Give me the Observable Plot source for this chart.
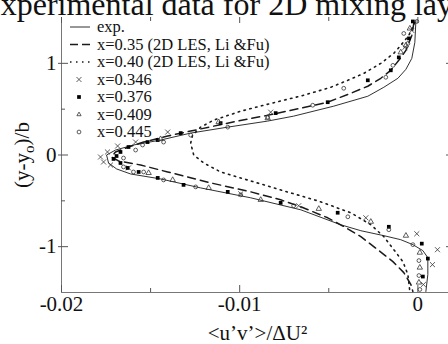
<!DOCTYPE html>
<html><head><meta charset="utf-8">
<script src="https://cdn.jsdelivr.net/npm/d3@7"></script>
<script src="https://cdn.jsdelivr.net/npm/@observablehq/plot@0.6"></script>
<style>html,body{margin:0;padding:0;overflow:hidden;background:#fff;width:448px;height:344px}</style>
</head><body><div id="chart"></div>
<script>
const title = "Experimental data for 2D mixing layer";
const xLabel = "<u\u2019v\u2019>/\u0394U\u00B2";
const xTicks = [-0.02, -0.01, 0];
const xTickLabels = ["-0.02", "-0.01", "0"];
const xMinor = [-0.015, -0.005];
const yTicks = [1, 0, -1];
const yTickLabels = ["1", "0", "-1"];
const yMinor = [0.5, -0.5];
const seriesLabels = ["exp.", "x=0.35 (2D LES, Li &Fu)", "x=0.40 (2D LES, Li &Fu)", "x=0.346", "x=0.376", "x=0.409", "x=0.445"];

// exp. (solid)
const expX = [-0.00011,-0.00017,-0.00034,-0.00067,-0.00112,-0.00191,-0.00281,-0.00472,-0.00697,-0.00843,-0.01067,-0.01275,-0.01444,-0.01596,-0.01697,-0.01747,-0.01736,-0.01691,-0.01612,-0.01444,-0.01219,-0.00938,-0.00657,-0.00433,-0.0032,-0.00191,-0.00096,-0.00028,0.00028,0.00056,0.00056,0.00045];
const expY = [1.467,1.228,1.054,0.935,0.837,0.739,0.641,0.533,0.424,0.370,0.304,0.239,0.163,0.109,0.054,0.000,-0.087,-0.152,-0.207,-0.261,-0.359,-0.467,-0.598,-0.761,-0.826,-0.880,-0.924,-0.978,-1.043,-1.120,-1.304,-1.489];
// x=0.35 LES (dashed)
const les35X = [-0.00022,-0.00034,-0.00067,-0.00107,-0.00152,-0.00208,-0.00281,-0.00376,-0.00506,-0.00657,-0.00809,-0.01011,-0.01146,-0.01275,-0.01404,-0.01539,-0.01624,-0.01697,-0.01719,-0.0168,-0.01556,-0.01404,-0.01292,-0.01163,-0.00938,-0.0077,-0.00657,-0.00506,-0.00404,-0.0032,-0.00225,-0.0014,-0.00079,-0.00039,-0.00028];
const les35Y = [1.446,1.304,1.141,1.033,0.924,0.837,0.750,0.674,0.576,0.511,0.446,0.370,0.315,0.261,0.207,0.141,0.087,0.033,-0.022,-0.065,-0.109,-0.185,-0.239,-0.304,-0.402,-0.489,-0.565,-0.685,-0.793,-0.891,-1.033,-1.163,-1.283,-1.413,-1.489];
// x=0.40 LES (dotted)
const les40X = [-0.00017,-0.00051,-0.00096,-0.00135,-0.00208,-0.00303,-0.00393,-0.00489,-0.0064,-0.00865,-0.00994,-0.01146,-0.01219,-0.01264,-0.01275,-0.01258,-0.01202,-0.01107,-0.00938,-0.00753,-0.00562,-0.00376,-0.00264,-0.00191,-0.00135,-0.00084,-0.00056,-0.00045];
const les40Y = [1.446,1.304,1.196,1.109,1.000,0.891,0.815,0.739,0.652,0.543,0.478,0.380,0.304,0.217,0.130,0.000,-0.087,-0.185,-0.283,-0.391,-0.500,-0.630,-0.761,-0.891,-1.033,-1.163,-1.304,-1.489];
// x=0.346 (times)
const m346X = [-0.00034,-0.00073,-0.00826,-0.01404,-0.01584,-0.01685,-0.01742,-0.01781,-0.01764,-0.01725,-0.01624,-0.00994,-0.00669,-0.00292,-0.00006,0.0011,0.00082,0.00031];
const m346Y = [1.359,1.174,0.467,0.250,0.141,0.098,0.033,-0.022,-0.076,-0.109,-0.141,-0.424,-0.554,-0.685,-0.859,-1.033,-1.196,-1.413];
// x=0.376 (filled square)
const m376X = [-0.00028,-0.0005,-0.00107,-0.00152,-0.00281,-0.00506,-0.00798,-0.01107,-0.01331,-0.0146,-0.01517,-0.01624,-0.01669,-0.01691,-0.01708,-0.01669,-0.01629,-0.01567,-0.0146,-0.01315,-0.01067,-0.0077,-0.0045,-0.00163,0.00022,0.00056,0.00028];
const m376Y = [1.457,1.272,1.065,0.924,0.815,0.576,0.457,0.348,0.239,0.163,0.141,0.087,0.033,-0.011,-0.043,-0.087,-0.141,-0.185,-0.250,-0.326,-0.402,-0.522,-0.630,-0.783,-0.967,-1.130,-1.326];
// x=0.409 (open triangle)
const m409X = [-0.00045,-0.00067,-0.00096,-0.00843,-0.01118,-0.01444,-0.01511,-0.01376,-0.01174,-0.00882,-0.00556,-0.00264,-0.00067,0.00011,0.00011,0.00006];
const m409Y = [1.380,1.196,1.120,0.402,0.359,0.174,-0.196,-0.272,-0.359,-0.489,-0.587,-0.728,-0.880,-1.065,-1.228,-1.391];
// x=0.445 (open circle)
const m445X = [-0.00006,-0.00079,-0.00056,-0.0014,-0.0018,-0.00416,-0.0059,-0.00843,-0.01067,-0.01275,-0.01427,-0.01545,-0.01584,-0.01652,-0.01652,-0.01596,-0.01539,-0.01427,-0.01247,-0.00994,-0.00697,-0.00393,-0.00163,-0.00028,0.00006,0.00006,0.00011];
const m445Y = [1.457,1.326,1.217,0.978,0.848,0.728,0.543,0.413,0.304,0.217,0.141,0.109,0.054,-0.033,-0.130,-0.185,-0.185,-0.272,-0.348,-0.435,-0.554,-0.674,-0.815,-0.978,-1.152,-1.315,-1.467];

const rows = (xs, ys) => xs.map((x, i) => ({x, y: ys[i]}));
const FONT = "'Liberation Serif', 'Times New Roman', serif";
const INK = "#1a1a1a";

const svgEl = Plot.plot({
  width: 453, height: 344,
  marginLeft: 61, marginRight: 0, marginTop: 17, marginBottom: 52,
  x: {domain: [-0.02, 0.002], axis: null},
  y: {domain: [-1.5, 1.5], axis: null},
  style: {fontFamily: FONT, background: "#fff", maxWidth: "none", overflow: "visible"},
  marks: [
    Plot.ruleX([-0.02], {stroke: "#777", strokeWidth: 1}),
    Plot.ruleY([-1.5], {stroke: "#777", strokeWidth: 1}),
    // left ticks
    Plot.tickY(yTicks, {y: d => d, insetLeft: -3, insetRight: 385, stroke: "#555"}),
    Plot.tickY(yMinor, {y: d => d, insetRight: 388, stroke: "#555"}),
    // right ticks
    Plot.tickY(yTicks, {y: d => d, insetLeft: 385, stroke: "#555"}),
    Plot.tickY(yMinor, {y: d => d, insetLeft: 388, stroke: "#555"}),
    // bottom ticks
    Plot.tickX(xTicks, {x: d => d, insetTop: 268, stroke: "#555"}),
    Plot.tickX(xMinor, {x: d => d, insetTop: 271, stroke: "#555"}),
    // top ticks
    Plot.tickX(xTicks, {x: d => d, insetBottom: 269, stroke: "#555"}),
    Plot.tickX(xMinor, {x: d => d, insetBottom: 271, stroke: "#555"}),
    // curves
    Plot.line(rows(expX, expY), {x: "x", y: "y", stroke: INK, strokeWidth: 0.9}),
    Plot.line(rows(les35X, les35Y), {x: "x", y: "y", stroke: INK, strokeWidth: 1.5, strokeDasharray: "8,5"}),
    Plot.line(rows(les40X, les40Y), {x: "x", y: "y", stroke: INK, strokeWidth: 1.6, strokeDasharray: "1.5,4.5"}),
    // markers
    Plot.dot(rows(m346X, m346Y), {x: "x", y: "y", symbol: "times", r: 2.4, stroke: "#333", strokeWidth: 0.8}),
    Plot.dot(rows(m376X, m376Y), {x: "x", y: "y", symbol: "square", r: 2.1, fill: "#000", stroke: "none"}),
    Plot.dot(rows(m409X, m409Y), {x: "x", y: "y", symbol: "triangle", r: 2, fill: "none", stroke: "#333", strokeWidth: 0.8}),
    Plot.dot(rows(m445X, m445Y), {x: "x", y: "y", symbol: "circle", r: 1.9, fill: "none", stroke: "#333", strokeWidth: 0.8}),
    // tick labels
    Plot.text(yTicks, {y: d => d, text: (d, i) => yTickLabels[i], frameAnchor: "left", textAnchor: "end", dx: -5, fontSize: 21, fill: "#111"}),
    Plot.text(xTicks, {x: d => d, text: (d, i) => xTickLabels[i], frameAnchor: "bottom", lineAnchor: "top", dy: 4, fontSize: 21, fill: "#111"}),
    // x label
    Plot.text([xLabel], {frameAnchor: "bottom", lineAnchor: "middle", dy: 41, fontSize: 21, fill: "#111"}),
    // title
    Plot.text([title], {frameAnchor: "top", lineAnchor: "middle", dx: -28, dy: -13, fontSize: 32, fill: "#111"})
  ]
});
document.getElementById("chart").appendChild(svgEl);

// y axis label with subscript
const svg = d3.select(svgEl);
const yl = svg.append("text")
  .attr("transform", "translate(29,155) rotate(-90)")
  .attr("text-anchor", "middle")
  .attr("font-family", FONT).attr("font-size", 21).attr("fill", "#111");
yl.append("tspan").text("(y-y");
yl.append("tspan").attr("dy", 5).attr("font-size", 15).text("o");
yl.append("tspan").attr("dy", -5).text(")/b");

// legend
const lg = svg.append("g").attr("font-family", FONT).attr("font-size", 16.5).attr("fill", "#111").attr("text-anchor", "start");
const kinds = [
  {t: "line", dash: null, w: 0.9},
  {t: "line", dash: "8,4", w: 1.5},
  {t: "line", dash: "1.5,4.5", w: 1.6},
  {t: "sym", sym: d3.symbolTimes, r: 2.4, fill: "none", stroke: "#333"},
  {t: "sym", sym: d3.symbolSquare, r: 2.1, fill: "#000", stroke: "none"},
  {t: "sym", sym: d3.symbolTriangle2, r: 2, fill: "none", stroke: "#333"},
  {t: "sym", sym: d3.symbolCircle, r: 1.9, fill: "none", stroke: "#333"}
];
seriesLabels.forEach((lab, i) => {
  const y = 27 + i * 17.5;
  const k = kinds[i];
  if (k.t === "line") {
    lg.append("line").attr("x1", 70).attr("x2", 90).attr("y1", y).attr("y2", y)
      .attr("stroke", INK).attr("stroke-width", k.w).attr("stroke-dasharray", k.dash);
  } else {
    lg.append("path").attr("transform", `translate(79,${y})`)
      .attr("d", d3.symbol(k.sym, Math.PI * k.r * k.r)())
      .attr("fill", k.fill).attr("stroke", k.stroke).attr("stroke-width", 0.8);
  }
  lg.append("text").attr("x", 97).attr("y", y).attr("dy", "0.32em").attr("text-anchor", "start").text(lab);
});
</script>
</body></html>
